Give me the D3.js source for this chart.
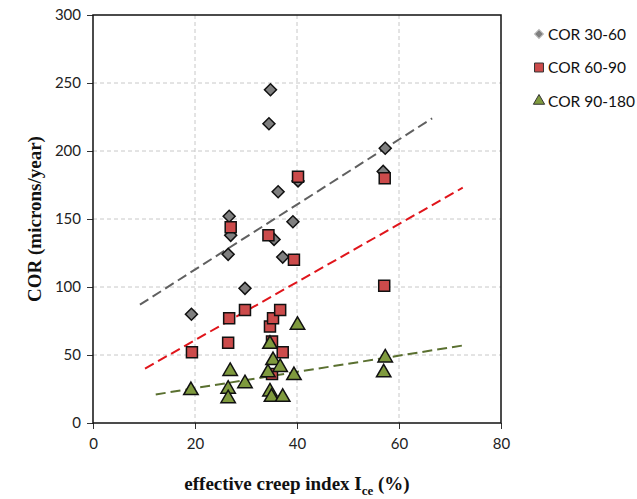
<!DOCTYPE html>
<html>
<head>
<meta charset="utf-8">
<script src="https://cdnjs.cloudflare.com/ajax/libs/d3/7.8.5/d3.min.js"></script>
<style>
  body { margin: 0; background: #fff; }
  .tick text { font-family: Lato, "Open Sans", sans-serif; font-size: 15px; fill: #222; }
  .axis-title { font-family: "Liberation Serif", "Times New Roman", serif; font-weight: bold; font-size: 19px; fill: #111; }
  .legend text { font-family: Lato, "Open Sans", sans-serif; font-size: 15.5px; fill: #111; }
</style>
</head>
<body>
<svg width="637" height="499"></svg>
<script>
// COR 30-60 (diamonds)
var cor30x = [19.3, 26.7, 27.0, 26.5, 29.8, 34.8, 34.5, 36.3, 39.2, 35.5, 37.2, 40.2, 56.9, 57.3];
var cor30y = [80, 152, 138, 124, 99, 245, 220, 170, 148, 135, 122, 178, 185, 202];
// COR 60-90 (squares)
var cor60x = [19.4, 26.7, 26.5, 29.8, 34.7, 35.3, 36.7, 35.1, 37.2, 35.1, 34.4, 39.4, 40.2, 27.0, 57.2, 57.1];
var cor60y = [52, 77, 59, 83, 71, 77, 83, 60, 52, 36, 138, 120, 181, 144, 180, 101];
// COR 90-180 (triangles)
var cor90x = [19.2, 26.9, 26.5, 26.5, 29.8, 34.7, 35.3, 34.3, 36.7, 34.7, 35.0, 37.2, 39.4, 40.1, 57.3, 57.0];
var cor90y = [24, 38, 25, 18, 29, 58, 46, 37, 41, 23, 19, 19, 35, 72, 48, 37];
// linear trend lines, start and end points
var trend30 = [[9.2, 87], [66.5, 224]];
var trend60 = [[10.2, 40], [72.5, 173]];
var trend90 = [[12.3, 21], [72.5, 57]];

var seriesNames = ["COR 30-60", "COR 60-90", "COR 90-180"];
var xTicks = [0, 20, 40, 60, 80];
var yTicks = [0, 50, 100, 150, 200, 250, 300];

var svg = d3.select("svg"),
    margin = {top: 15, right: 136, bottom: 76, left: 93},
    width = +svg.attr("width") - margin.left - margin.right,
    height = +svg.attr("height") - margin.top - margin.bottom;

var x = d3.scaleLinear().domain([0, 80]).range([0, width]),
    y = d3.scaleLinear().domain([0, 300]).range([height, 0]);

var chart = svg.append("g")
    .attr("transform", "translate(" + margin.left + "," + margin.top + ")");

// gridlines
chart.append("g").selectAll("line")
    .data(xTicks.slice(1, -1))
  .enter().append("line")
    .attr("x1", function(d) { return x(d); })
    .attr("x2", function(d) { return x(d); })
    .attr("y1", 0).attr("y2", height)
    .attr("stroke", "#c8c8c8").attr("stroke-dasharray", "4,3");
chart.append("g").selectAll("line")
    .data(yTicks.slice(1, -1))
  .enter().append("line")
    .attr("y1", function(d) { return y(d); })
    .attr("y2", function(d) { return y(d); })
    .attr("x1", 0).attr("x2", width)
    .attr("stroke", "#c8c8c8").attr("stroke-dasharray", "4,3");

// axes
chart.append("g")
    .attr("class", "x axis")
    .attr("transform", "translate(0," + height + ")")
    .call(d3.axisBottom(x).tickValues(xTicks).tickSize(6).tickPadding(9).tickSizeOuter(0))
    .call(function(g) { g.select(".domain").remove(); });
chart.append("g")
    .attr("class", "y axis")
    .call(d3.axisLeft(y).tickValues(yTicks).tickSize(6).tickPadding(6).tickSizeOuter(0))
    .call(function(g) { g.select(".domain").remove(); });
chart.selectAll(".tick line").attr("stroke", "#333");

// plot border
chart.append("rect")
    .attr("width", width).attr("height", height)
    .attr("fill", "none").attr("stroke", "#111").attr("stroke-width", 1.5);

// trend lines
var trends = [
  {pts: trend30, color: "#606060"},
  {pts: trend60, color: "#e0151b"},
  {pts: trend90, color: "#5a7030"}
];
chart.selectAll(".trend")
    .data(trends)
  .enter().append("line")
    .attr("class", "trend")
    .attr("x1", function(d) { return x(d.pts[0][0]); })
    .attr("y1", function(d) { return y(d.pts[0][1]); })
    .attr("x2", function(d) { return x(d.pts[1][0]); })
    .attr("y2", function(d) { return y(d.pts[1][1]); })
    .attr("stroke", function(d) { return d.color; })
    .attr("stroke-width", 2)
    .attr("stroke-dasharray", "10,5");

// markers
var diamond = d3.symbol().type(d3.symbolSquare).size(72),
    square = d3.symbol().type(d3.symbolSquare).size(121),
    triangle = d3.symbol().type(d3.symbolTriangle).size(90);

chart.append("g").selectAll("path")
    .data(d3.range(cor30x.length))
  .enter().append("path")
    .attr("d", diamond)
    .attr("transform", function(i) { return "translate(" + x(cor30x[i]) + "," + y(cor30y[i]) + ") rotate(45)"; })
    .attr("fill", "#7f7f7f").attr("stroke", "#111").attr("stroke-width", 1.5);

chart.append("g").selectAll("path")
    .data(d3.range(cor60x.length))
  .enter().append("path")
    .attr("d", square)
    .attr("transform", function(i) { return "translate(" + x(cor60x[i]) + "," + y(cor60y[i]) + ")"; })
    .attr("fill", "#cc4b4b").attr("stroke", "#111").attr("stroke-width", 1.5);

chart.append("g").selectAll("path")
    .data(d3.range(cor90x.length))
  .enter().append("path")
    .attr("d", triangle)
    .attr("transform", function(i) { return "translate(" + x(cor90x[i]) + "," + y(cor90y[i]) + ")"; })
    .attr("fill", "#7f9a3e").attr("stroke", "#111").attr("stroke-width", 1.5);

// axis titles
svg.append("text")
    .attr("class", "axis-title")
    .attr("text-anchor", "middle")
    .attr("transform", "translate(41," + (margin.top + height / 2) + ") rotate(-90)")
    .text("COR (microns/year)");

var xt = svg.append("text")
    .attr("class", "axis-title")
    .attr("text-anchor", "middle")
    .attr("x", 297).attr("y", 490);
xt.append("tspan").text("effective creep index I");
xt.append("tspan").attr("dy", 5).attr("font-size", 13).text("ce");
xt.append("tspan").attr("dy", -5).text(" (%)");

// legend
var legend = svg.append("g").attr("class", "legend")
    .attr("transform", "translate(539,34)");
var legendShapes = [
  d3.symbol().type(d3.symbolSquare).size(40),
  d3.symbol().type(d3.symbolSquare).size(80),
  d3.symbol().type(d3.symbolTriangle).size(55)
];
var legendFill = ["#7f7f7f", "#cc4b4b", "#7f9a3e"];
var item = legend.selectAll(".item")
    .data(seriesNames)
  .enter().append("g")
    .attr("class", "item")
    .attr("transform", function(d, i) { return "translate(0," + (i * 33.5) + ")"; });
item.append("path")
    .attr("d", function(d, i) { return legendShapes[i](); })
    .attr("transform", function(d, i) { return i === 0 ? "rotate(45)" : null; })
    .attr("fill", function(d, i) { return legendFill[i]; })
    .attr("stroke", function(d, i) { return i === 0 ? "#bbb" : "#333"; })
    .attr("stroke-width", 1);
item.append("text")
    .attr("x", 9).attr("dy", "0.36em")
    .text(function(d) { return d; });
</script>
</body>
</html>
